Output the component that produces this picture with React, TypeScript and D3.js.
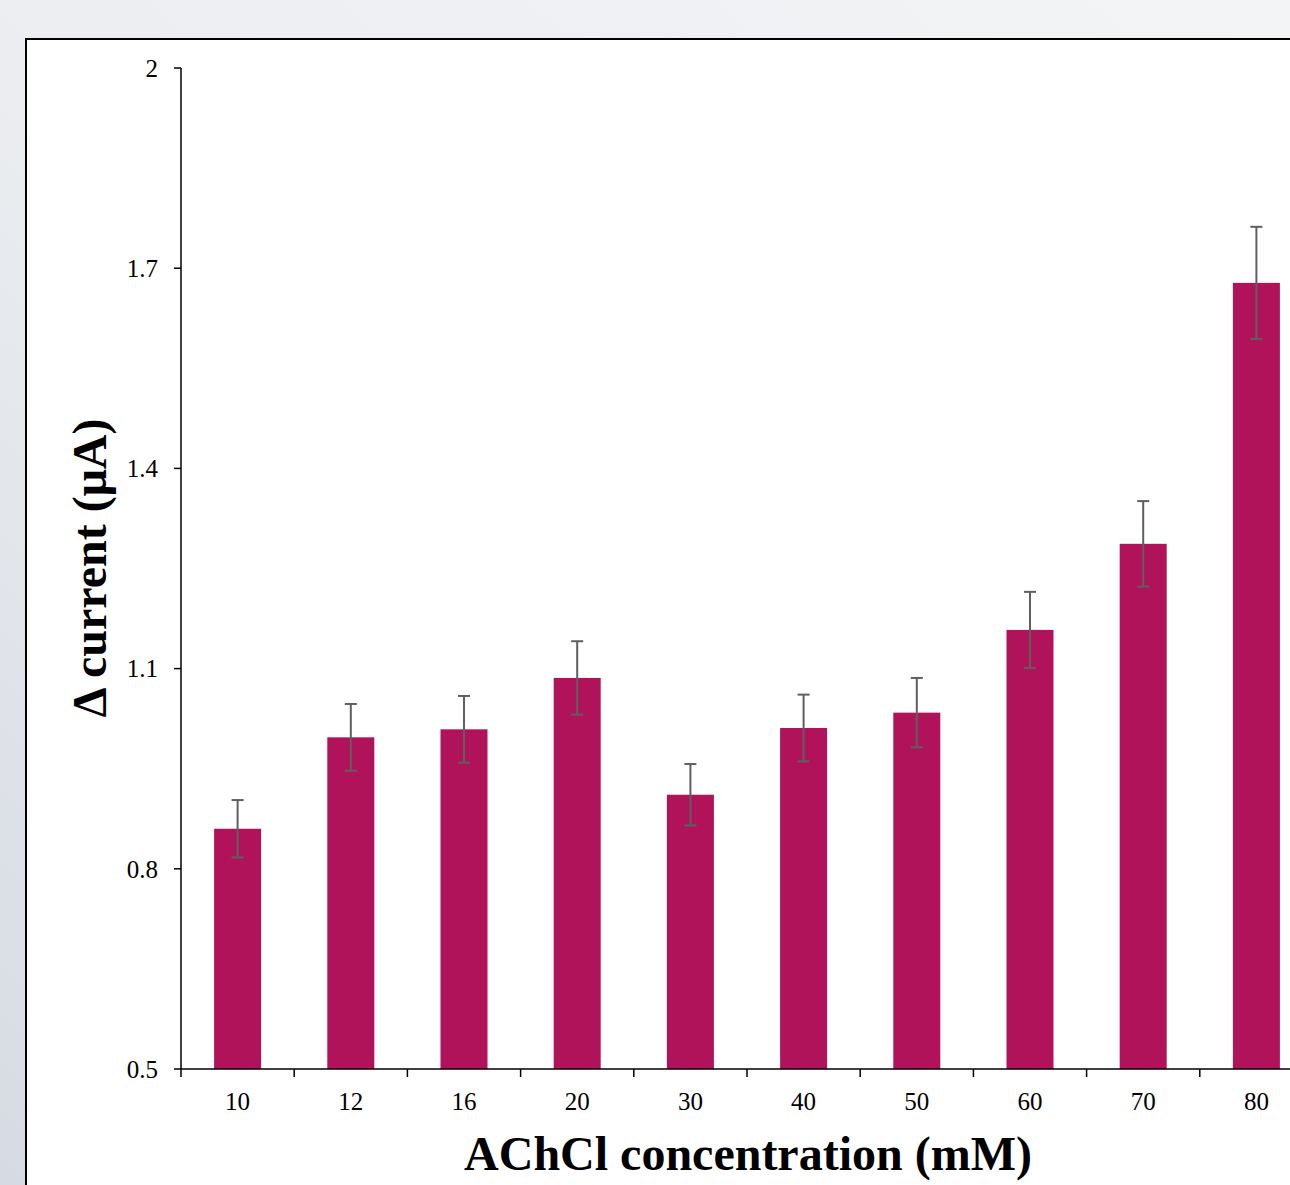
import React from "react";
import * as d3 from "d3";

const categories = ["10", "12", "16", "20", "30", "40", "50", "60", "70", "80"];
const values = [0.86, 0.997, 1.009, 1.086, 0.911, 1.011, 1.034, 1.158, 1.287, 1.678];
const errors = [0.043, 0.05, 0.05, 0.055, 0.046, 0.05, 0.052, 0.057, 0.064, 0.084];
const yTicks = [0.5, 0.8, 1.1, 1.4, 1.7, 2];

const W = 1290;
const H = 1185;

export default function App() {
  const left = 181;
  const step = 113.2;
  const x = d3
    .scaleBand<string>()
    .domain(categories)
    .range([left, left + step * categories.length])
    .paddingInner(0)
    .paddingOuter(0);
  const y = d3.scaleLinear().domain([0.5, 2]).range([1069, 68]);
  const barW = 47;
  const font = "'Liberation Serif', 'Times New Roman', serif";

  return (
    <svg width={W} height={H} style={{ display: "block", position: "absolute", left: 0, top: 0 }}>
      <defs>
        <linearGradient id="bg" x1="1" y1="0" x2="0" y2="1">
          <stop offset="0" stopColor="#f3f4f6" />
          <stop offset="0.5" stopColor="#eceef1" />
          <stop offset="1" stopColor="#d6dbe3" />
        </linearGradient>
      </defs>
      <rect x={0} y={0} width={W} height={H} fill="url(#bg)" />
      <rect x={26} y={39} width={1300} height={1200} fill="#ffffff" stroke="#000" strokeWidth={2} />

      {/* bars */}
      {categories.map((c, i) => {
        const cx = (x(c) as number) + x.bandwidth() / 2;
        return (
          <rect
            key={c}
            x={cx - barW / 2}
            y={y(values[i])}
            width={barW}
            height={y(0.5) - y(values[i])}
            fill="#b1135b"
          />
        );
      })}

      {/* error bars */}
      {categories.map((c, i) => {
        const cx = (x(c) as number) + x.bandwidth() / 2;
        const t = y(values[i] + errors[i]);
        const b = y(values[i] - errors[i]);
        return (
          <g key={"e" + c} stroke="#5f5f5f" strokeWidth={2}>
            <line x1={cx} x2={cx} y1={t} y2={b} />
            <line x1={cx - 6} x2={cx + 6} y1={t} y2={t} />
            <line x1={cx - 6} x2={cx + 6} y1={b} y2={b} />
          </g>
        );
      })}

      {/* y axis */}
      <line x1={left} x2={left} y1={y(2)} y2={y(0.5) + 8} stroke="#000" strokeWidth={1.5} />
      {yTicks.map((t) => (
        <g key={t}>
          <line x1={left - 7} x2={left} y1={y(t)} y2={y(t)} stroke="#000" strokeWidth={1.5} />
          <text
            x={158}
            y={y(t)}
            dy="0.35em"
            textAnchor="end"
            fontFamily={font}
            fontSize={25}
            fill="#000"
          >
            {t === 2 ? "2" : t.toFixed(1)}
          </text>
        </g>
      ))}

      {/* x axis */}
      <line x1={left} x2={W + 10} y1={y(0.5)} y2={y(0.5)} stroke="#000" strokeWidth={1.5} />
      {categories.map((c) => (
        <line
          key={"t" + c}
          x1={(x(c) as number) + step}
          x2={(x(c) as number) + step}
          y1={y(0.5)}
          y2={y(0.5) + 8}
          stroke="#000"
          strokeWidth={1.5}
        />
      ))}
      {categories.map((c) => (
        <text
          key={"l" + c}
          x={(x(c) as number) + x.bandwidth() / 2}
          y={1110}
          textAnchor="middle"
          fontFamily={font}
          fontSize={25}
          fill="#000"
        >
          {c}
        </text>
      ))}

      {/* titles */}
      <text
        x={748}
        y={1170}
        textAnchor="middle"
        fontFamily={font}
        fontSize={48}
        fontWeight="bold"
        fill="#000"
      >
        AChCl concentration (mM)
      </text>
      <text
        transform={`translate(106, 568) rotate(-90)`}
        textAnchor="middle"
        fontFamily={font}
        fontSize={48}
        fontWeight="bold"
        fill="#000"
      >
        Δ current (μA)
      </text>
    </svg>
  );
}
